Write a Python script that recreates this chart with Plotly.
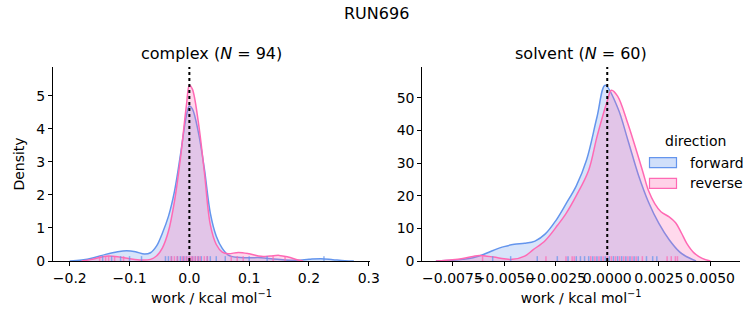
import plotly.graph_objects as go

# ---------------- data ----------------
# complex panel: KDE density readings
cx_fwd = [-0.20, -0.18, -0.16, -0.14, -0.12, -0.105, -0.09, -0.075, -0.065, -0.055, -0.045, -0.035,
          -0.025, -0.015, -0.005, 0.0, 0.005, 0.015, 0.025, 0.035, 0.045, 0.055, 0.065, 0.08,
          0.10, 0.12, 0.14, 0.16, 0.18, 0.20, 0.22, 0.24, 0.26, 0.275]
cd_fwd = [0.0, 0.03, 0.10, 0.20, 0.28, 0.31, 0.28, 0.21, 0.25, 0.45, 0.85, 1.35,
          2.1, 3.2, 4.4, 4.69, 4.6, 3.9, 2.8, 1.45, 0.75, 0.38, 0.18, 0.11,
          0.10, 0.10, 0.06, 0.03, 0.02, 0.05, 0.07, 0.04, 0.01, 0.0]
cx_rev = [-0.18, -0.16, -0.145, -0.135, -0.12, -0.10, -0.08, -0.065, -0.055, -0.045, -0.035, -0.025,
          -0.015, -0.005, 0.0, 0.005, 0.015, 0.025, 0.035, 0.045, 0.055, 0.065, 0.082, 0.10,
          0.12, 0.135, 0.15, 0.165, 0.18, 0.19]
cd_rev = [0.0, 0.06, 0.13, 0.15, 0.13, 0.07, 0.03, 0.05, 0.15, 0.40, 0.90, 1.8,
          3.1, 4.7, 5.32, 5.2, 4.2, 2.7, 1.1, 0.5, 0.27, 0.22, 0.26, 0.22,
          0.14, 0.15, 0.17, 0.12, 0.04, 0.0]

# solvent panel: KDE density readings
sx_fwd = [-0.0083, -0.0075, -0.0070, -0.0065, -0.0060, -0.0055, -0.0050, -0.0045, -0.0040, -0.0035,
          -0.0030, -0.0025, -0.0020, -0.0015, -0.0010, -0.0005, -0.0001, 0.0005, 0.0010, 0.0015,
          0.0020, 0.0025, 0.0030, 0.0035, 0.00385, 0.0043]
sd_fwd = [0.0, 0.2, 0.5, 1.0, 2.0, 3.3, 4.4, 5.1, 5.4, 6.1,
          8.3, 12.3, 17.5, 23.0, 31.0, 44.0, 53.8, 47.0, 37.0, 26.5,
          18.0, 11.5, 6.5, 2.8, 1.3, 0.0]
sx_rev = [-0.0083, -0.0075, -0.0070, -0.0065, -0.0062, -0.0055, -0.0050, -0.0046, -0.0040, -0.0036,
          -0.0030, -0.0024, -0.0020, -0.0015, -0.0009, -0.0005, 0.0, 0.0002, 0.0005, 0.0010,
          0.0017, 0.0020, 0.0023, 0.0026, 0.0030, 0.0033, 0.0036, 0.00385, 0.0042, 0.0046, 0.0050]
sd_rev = [0.0, 0.4, 0.8, 1.4, 1.7, 1.2, 0.7, 0.5, 1.5, 3.4,
          6.3, 11.0, 14.5, 20.0, 27.8, 38.0, 49.0, 52.3, 50.5, 42.0,
          27.8, 21.5, 17.6, 15.1, 13.5, 11.8, 8.5, 5.4, 2.5, 0.8, 0.0]

# rug samples
c_rug_fwd = [-0.145, -0.13, -0.115, -0.1, -0.08, -0.04, -0.035, -0.03, -0.02, -0.015, -0.01, -0.005,
             0.0, 0.005, 0.01, 0.015, 0.02, 0.03, 0.035, 0.045, 0.06, 0.1, 0.13, 0.225]
c_rug_rev = [-0.15, -0.14, -0.135, -0.125, -0.11, -0.03, -0.025, -0.02, -0.012, -0.008, -0.004, 0.0,
             0.003, 0.006, 0.01, 0.014, 0.018, 0.025, 0.03, 0.07, 0.08, 0.09, 0.14, 0.16]
s_rug_fwd = [-0.00555, -0.00468, -0.00339, -0.00242, -0.0019, -0.0015, -0.0013, -0.0011, -0.0009,
             -0.0007, -0.0005, -0.0003, -0.0001, 0.0001, 0.0003, 0.0005, 0.0007, 0.0009, 0.0011,
             0.0013, 0.0015, 0.0019, 0.0022, 0.0024]
s_rug_rev = [-0.00604, -0.00297, -0.0020, -0.0017, -0.0016, -0.0008, -0.0006, -0.0004, -0.0002, 0.0,
             0.0002, 0.0004, 0.0006, 0.0008, 0.0010, 0.0012, 0.0014, 0.0017, 0.0029, 0.0031,
             0.0033, 0.0034]

c_xticks = [-0.2, -0.1, 0.0, 0.1, 0.2, 0.3]
c_xticktext = ["\u22120.2", "\u22120.1", "0.0", "0.1", "0.2", "0.3"]
c_yticks = [0, 1, 2, 3, 4, 5]
s_xticks = [-0.0075, -0.005, -0.0025, 0.0, 0.0025, 0.005]
s_xticktext = ["\u22120.0075", "\u22120.0050", "\u22120.0025", "0.0000", "0.0025", "0.0050"]
s_yticks = [0, 10, 20, 30, 40, 50]

legend_names = ["forward", "reverse"]

c_xrange = [-0.228, 0.302]
c_yrange = [0, 5.87]
s_xrange = [-0.00896, 0.00643]
s_yrange = [0, 59.4]

BLUE = "#6495ED"
PINK = "#FF69B4"
BLUE_FILL = "rgba(100,149,237,0.25)"
PINK_FILL = "rgba(255,105,180,0.25)"
FONT = "DejaVu Sans"
FS = 14

fig = go.Figure()


def add_kde(x, y, xa, ya, color, fill, name):
    fig.add_trace(go.Scatter(
        x=x, y=y, xaxis=xa, yaxis=ya, mode="lines",
        line=dict(color=color, width=1.5, shape="spline", smoothing=1.0),
        fill="tozeroy", fillcolor=fill, name=name,
        showlegend=False, hoverinfo="skip"))


def add_rug(vals, xa, ya, height, color):
    xs, ys = [], []
    for v in vals:
        xs += [v, v, None]
        ys += [0, height, None]
    fig.add_trace(go.Scatter(x=xs, y=ys, xaxis=xa, yaxis=ya, mode="lines",
                             line=dict(color=color, width=1.5), opacity=0.7,
                             showlegend=False, hoverinfo="skip"))


add_kde(cx_fwd, cd_fwd, "x", "y", BLUE, BLUE_FILL, "forward")
add_kde(cx_rev, cd_rev, "x", "y", PINK, PINK_FILL, "reverse")
add_kde(sx_fwd, sd_fwd, "x2", "y2", BLUE, BLUE_FILL, "forward")
add_kde(sx_rev, sd_rev, "x2", "y2", PINK, PINK_FILL, "reverse")

add_rug(c_rug_fwd, "x", "y", 0.025 * c_yrange[1], BLUE)
add_rug(c_rug_rev, "x", "y", 0.025 * c_yrange[1], PINK)
add_rug(s_rug_fwd, "x2", "y2", 0.025 * s_yrange[1], BLUE)
add_rug(s_rug_rev, "x2", "y2", 0.025 * s_yrange[1], PINK)

W, H = 753, 325
yb, yt = 1 - 261 / H, 1 - 67 / H

axis_common = dict(showline=True, linecolor="black", linewidth=1, ticks="outside",
                   ticklen=4, tickcolor="black", tickwidth=1, showgrid=False,
                   zeroline=False, tickfont=dict(size=FS, color="black", family=FONT),
                   mirror=False, tickangle=0, automargin=False)

xtitle = dict(text="work / kcal mol<sup>\u22121</sup>", font=dict(size=FS), standoff=8)

shapes = [
    dict(type="line", xref="x", yref="y domain", x0=0, x1=0, y0=0, y1=1,
         line=dict(color="black", width=2, dash="dot")),
    dict(type="line", xref="x2", yref="y2 domain", x0=0, x1=0, y0=0, y1=1,
         line=dict(color="black", width=2, dash="dot")),
]
annotations = [
    dict(text="RUN696", x=376.5 / W, y=1 - 13 / H, xref="paper", yref="paper",
         showarrow=False, font=dict(size=16), xanchor="center", yanchor="middle"),
    dict(text="complex (<i>N</i> = 94)", x=(53 + 370) / 2 / W, y=1 - 54 / H,
         xref="paper", yref="paper", showarrow=False, font=dict(size=16),
         xanchor="center", yanchor="middle"),
    dict(text="solvent (<i>N</i> = 60)", x=(422.3 + 740) / 2 / W, y=1 - 54 / H,
         xref="paper", yref="paper", showarrow=False, font=dict(size=16),
         xanchor="center", yanchor="middle"),
    dict(text="direction", x=695 / W, y=1 - 141 / H, xref="paper", yref="paper",
         showarrow=False, font=dict(size=FS), xanchor="center", yanchor="middle"),
]
# manual legend (matplotlib-style patches)
for i, (name, col, fcol) in enumerate(zip(legend_names, [BLUE, PINK],
                                          ["rgba(100,149,237,0.3)", "rgba(255,105,180,0.3)"])):
    yc = 162.7 + i * 20.6
    shapes.append(dict(type="rect", xref="paper", yref="paper",
                       x0=649.5 / W, x1=676.5 / W, y0=1 - (yc + 5) / H, y1=1 - (yc - 5) / H,
                       line=dict(color=col, width=1.2), fillcolor=fcol))
    annotations.append(dict(text=name, x=688 / W, y=1 - yc / H, xref="paper", yref="paper",
                            showarrow=False, font=dict(size=FS), xanchor="left",
                            yanchor="middle"))

fig.update_layout(
    width=W, height=H,
    margin=dict(l=0, r=0, t=0, b=0),
    paper_bgcolor="white", plot_bgcolor="white",
    font=dict(family=FONT, color="black", size=FS),
    showlegend=False,
    xaxis=dict(domain=[53 / W, 370 / W], range=c_xrange, tickvals=c_xticks,
               ticktext=c_xticktext, anchor="y", title=xtitle, **axis_common),
    yaxis=dict(domain=[yb, yt], range=c_yrange, tickvals=c_yticks, anchor="x",
               title=dict(text="Density", font=dict(size=FS), standoff=8),
               **axis_common),
    xaxis2=dict(domain=[422.3 / W, 740 / W], range=s_xrange, tickvals=s_xticks,
                ticktext=s_xticktext, anchor="y2", title=xtitle, **axis_common),
    yaxis2=dict(domain=[yb, yt], range=s_yrange, tickvals=s_yticks, anchor="x2",
                **axis_common),
    shapes=shapes,
    annotations=annotations,
)

fig.write_html("out.html", config={"displayModeBar": False},
               post_script="document.body.style.margin='0';document.body.style.overflow='hidden';")
